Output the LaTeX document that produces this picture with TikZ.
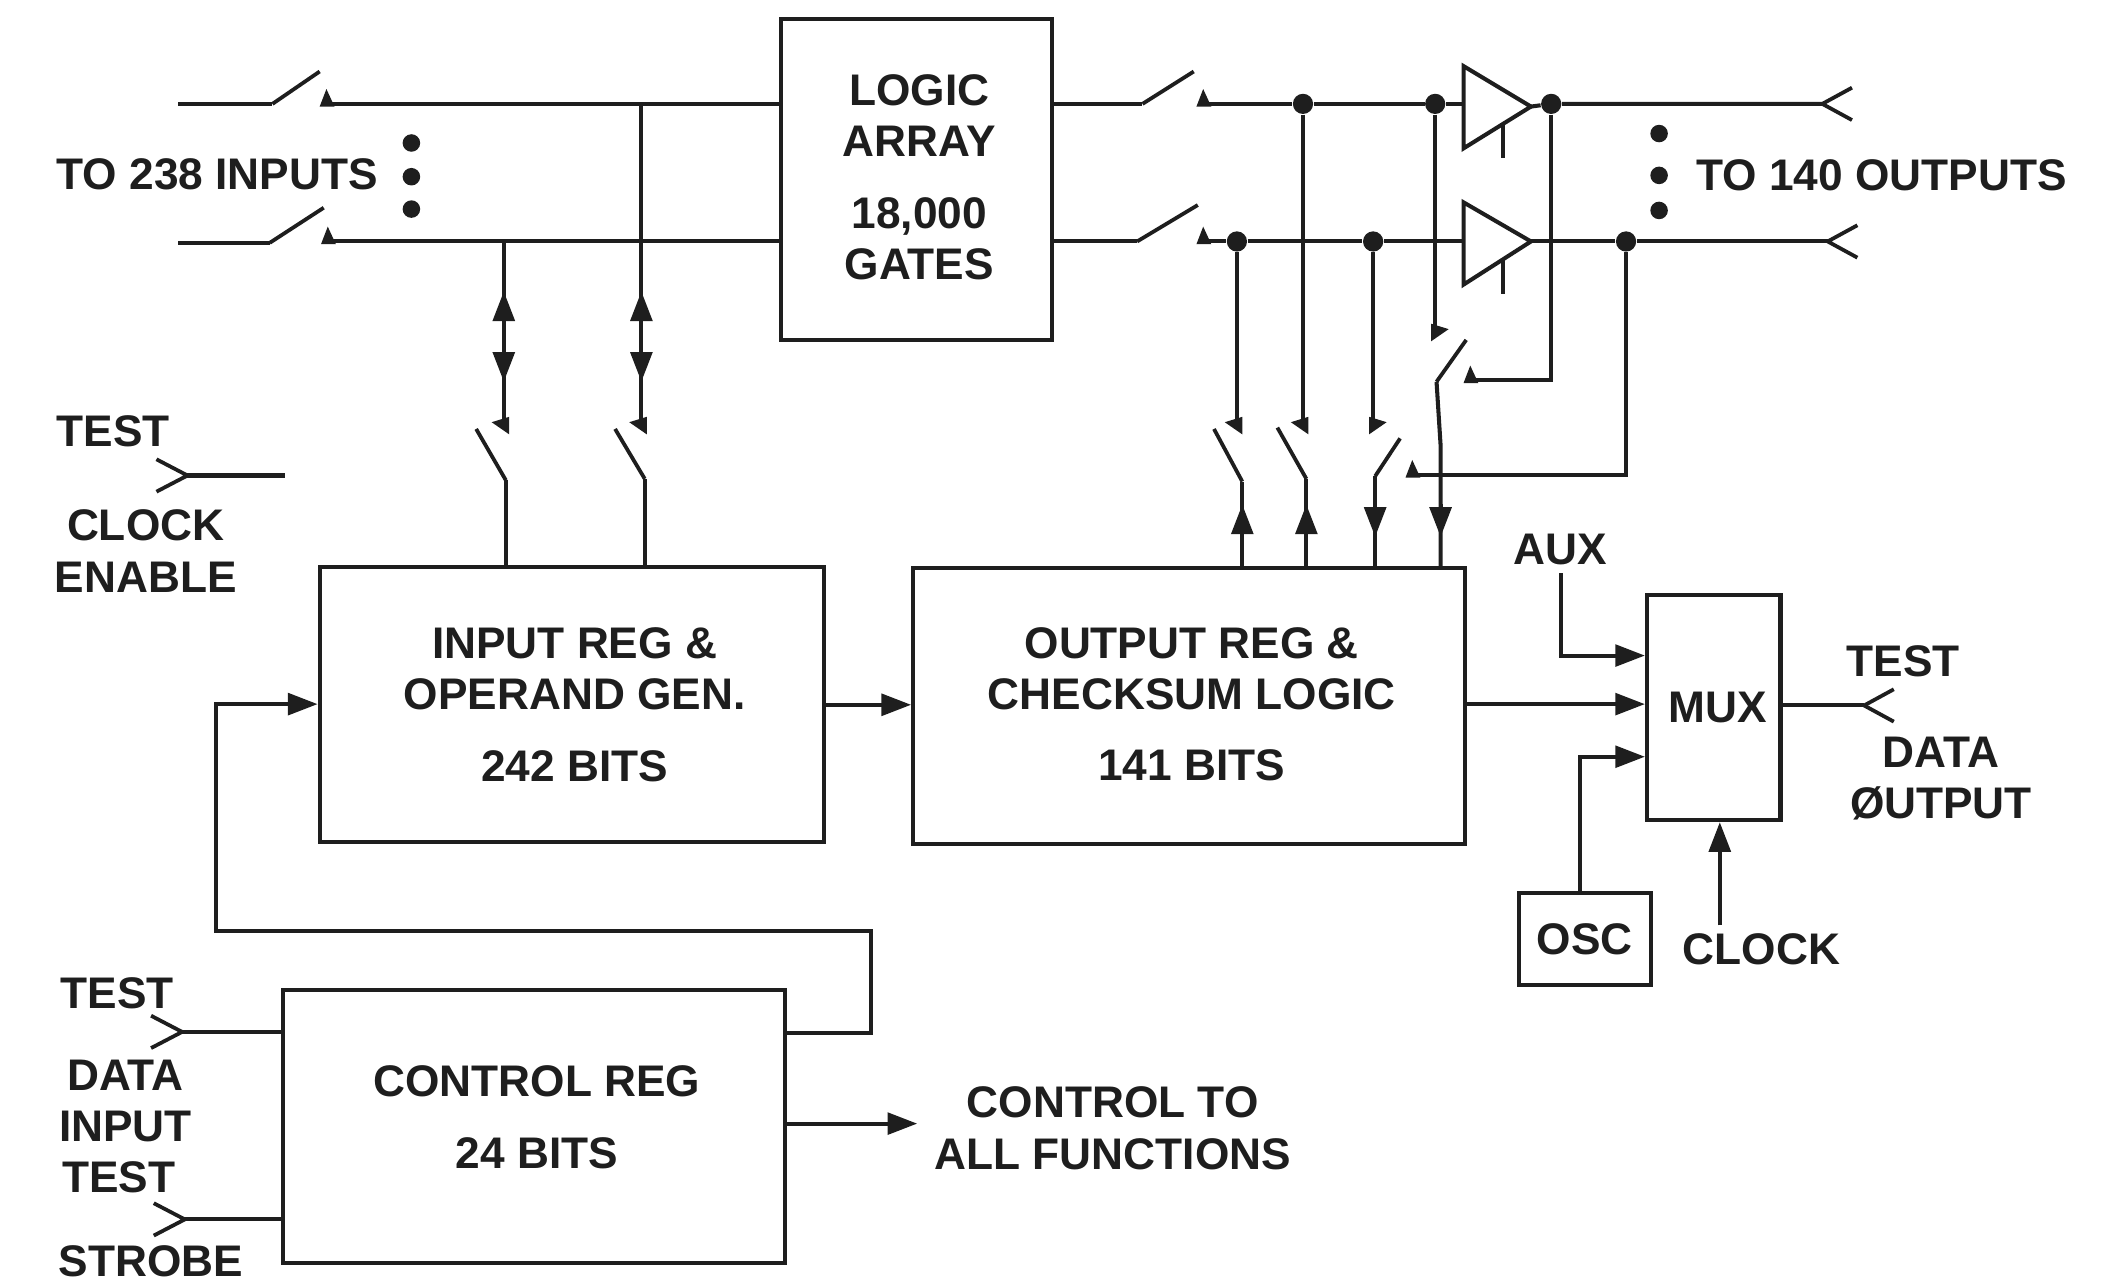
\documentclass[tikz,border=0pt]{standalone}
\usepackage{fontspec}
\setmainfont{Liberation Sans}[BoldFont={Liberation Sans Bold}]
\usetikzlibrary{arrows.meta,calc}
\definecolor{ink}{HTML}{1E1E1E}
\tikzset{
  wire/.style={draw=ink,line width=1.5pt,line join=miter},
  blade/.style={draw=ink,line width=1.4pt},
  flow/.style={draw=ink,line width=1.5pt,-{Triangle[length=11pt,width=8pt]}},
  blockbox/.style={draw=ink,line width=1.5pt,align=center,inner sep=0pt,font=\lbl},
  lab/.style={align=center,inner sep=0pt,text=ink,font=\lbl},
  dot/.style={circle,fill=ink,inner sep=0pt,minimum size=7.5pt},
  bigdot/.style={circle,fill=ink,inner sep=0pt,minimum size=6.5pt}
}
\newcommand{\lbl}{\fontsize{16.4}{19}\selectfont\bfseries\color{ink}}
\newcommand{\sh}{\hspace*{2pt}}
% contact wedges: up (horizontal bus), left-pointing, right-pointing
\newcommand{\wedgeU}[1]{\fill[ink] (#1) ++(-5,2) -- ++(5,-13) -- ++(6,13) -- cycle;}
\newcommand{\wedgeL}[1]{\fill[ink] (#1) ++(4,-7) -- ++(-13,4) -- ++(13,9) -- cycle;}
\newcommand{\wedgeR}[1]{\fill[ink] (#1) ++(-3,-7) -- ++(13,4) -- ++(-13,9) -- cycle;}
% forks: tip at #1, open towards the right / left
\newcommand{\forkR}[1]{\draw[blade] ($(#1)+(22,-12)$) -- (#1) -- ($(#1)+(22,12)$);}
\newcommand{\forkL}[1]{\draw[blade] ($(#1)+(-23,-12)$) -- (#1) -- ($(#1)+(-23,12)$);}
\begin{document}
\begin{tikzpicture}[x=0.5pt,y=-0.5pt]
\useasboundingbox (0,0) rectangle (1568,950);
% ---------- blocks
\node[blockbox,minimum width=100.5pt,minimum height=119pt,text depth=1.8pt] (logic) at (679.5,133) {\sh LOGIC\\\sh ARRAY\\[7.5pt]\sh 18,000\\\sh GATES};
\node[blockbox,minimum width=187pt,minimum height=102pt] (inreg) at (424,522.5) {\sh INPUT REG \&\\\sh OPERAND GEN.\\[7.5pt]\sh 242 BITS};
\node[blockbox,minimum width=204.5pt,minimum height=102.5pt,text depth=1.5pt] (outreg) at (881.5,523.5) {\sh OUTPUT REG \&\\\sh CHECKSUM LOGIC\\[7.5pt]\sh 141 BITS};
\node[blockbox,minimum width=49.5pt,minimum height=83.5pt] (mux) at (1270.5,524.5) {\hspace*{3pt}MUX};
\node[blockbox,minimum width=49pt,minimum height=34pt] (osc) at (1175,696) {OSC};
\node[blockbox,minimum width=186pt,minimum height=101pt,text depth=7pt] (ctrl) at (396,835) {\sh CONTROL REG\\[7.5pt]\sh 24 BITS};
% ---------- labels
\node[lab] (tinputs) at (161,129) {TO 238 INPUTS};
\node[lab] (toutputs) at (1395,130) {TO 140 OUTPUTS};
\node[lab] (tclk1) at (84,320) {TEST};
\node[lab] (tclk2) at (108,408.5) {CLOCK\\ENABLE};
\node[lab] (taux) at (1157,407) {AUX};
\node[lab] (tdo1) at (1411,490) {TEST};
\node[lab] (tdo2) at (1439,577) {DATA\\ØUTPUT};
\node[lab] (tclock) at (1306,704) {CLOCK};
\node[lab] (tdi1) at (87,736) {TEST};
\node[lab] (tdi2) at (93,816) {DATA\\INPUT};
\node[lab] (tst1) at (88,873) {TEST};
\node[lab,text depth=0pt,anchor=base] (tst2) at (112,946) {STROBE};
\node[lab] (tctl) at (825,836.5) {CONTROL TO\\ALL FUNCTIONS};
% ---------- vertical dots
\foreach \n/\x/\y in {a/305/106,b/305/131,c/305/155,d/1230/99,e/1230/130,f/1230/156}
  \node[bigdot] (v\n) at (\x,\y) {};
% ---------- junctions
\node[dot] (j1) at (966,77) {};
\node[dot] (j2) at (1064,77) {};
\node[dot] (j3) at (1150,77) {};
\node[dot] (j4) at (917,179) {};
\node[dot] (j5) at (1018,179) {};
\node[dot] (j6) at (1205.5,179) {};
% ---------- points
\coordinate (ia1) at (132,77);   \coordinate (ia2) at (202,77);  \coordinate (ia3) at (237,53);  \coordinate (ia4) at (242,77);
\coordinate (ib1) at (132,180);  \coordinate (ib2) at (200,180); \coordinate (ib3) at (240,154); \coordinate (ib4) at (243,179);
\coordinate (ja) at (475.5,77);  \coordinate (jb) at (373.5,179);
\coordinate (oa2) at (847,77);   \coordinate (oa3) at (885,53);  \coordinate (oa4) at (892,77);
\coordinate (ob2) at (843,179);  \coordinate (ob3) at (888,152); \coordinate (ob4) at (892,179);
% input switches
\coordinate (c1) at (373.5,316); \coordinate (k1a) at (353,318); \coordinate (k1b) at (375,356);
\coordinate (c2) at (475.5,316); \coordinate (k2a) at (456,318); \coordinate (k2b) at (478,355);
% output switches
\coordinate (c3) at (917,316);   \coordinate (k3a) at (900,318); \coordinate (k3b) at (921,357);
\coordinate (c4) at (966,316);   \coordinate (k4a) at (947,317); \coordinate (k4b) at (968.5,355);
\coordinate (c5) at (1018,316);  \coordinate (k5a) at (1038,325);\coordinate (k5b) at (1019.5,353);
\coordinate (c6) at (1064,247);  \coordinate (k6a) at (1087,252);\coordinate (k6b) at (1065,283);\coordinate (k6c) at (1068,330);
\coordinate (fbA) at (1150,282); \coordinate (fbB) at (1090,282);
\coordinate (fcA) at (1205.5,352); \coordinate (fcB) at (1047,352);
% buffers
\coordinate (b1t) at (1085,49);  \coordinate (b1b) at (1085,110); \coordinate (b1o) at (1135,79);
\coordinate (b2t) at (1085,150); \coordinate (b2b) at (1085,211); \coordinate (b2o) at (1135,179);
\coordinate (e1a) at (1114,92);  \coordinate (e1b) at (1114,117);
\coordinate (e2a) at (1114,193); \coordinate (e2b) at (1114,218);
% output forks
\coordinate (fo1) at (1351,77);  \coordinate (fo2) at (1355,179);
\coordinate (ftclk) at (139,352.5); \coordinate (tclkend) at (211,352.5);
\coordinate (fmux) at (1382,523);
\coordinate (fdi) at (135,765);  \coordinate (fst) at (137,904);
% mux and feedback
\coordinate (auxA) at (1157,425); \coordinate (auxB) at (1157,486);
\coordinate (oscB) at (1171,561);
\coordinate (clkA) at (1275,686);
\coordinate (fb1) at (646,766); \coordinate (fb2) at (646,690); \coordinate (fb3) at (160,690); \coordinate (fb4) at (160,522);
\coordinate (ctlEnd) at (680,833);
% ---------- input side
\draw[wire] (ia1) -- (ia2); \draw[blade] (ia2) -- (ia3);
\draw[wire] (ia4) -- (logic.west |- ia4);
\draw[wire] (ib1) -- (ib2); \draw[blade] (ib2) -- (ib3);
\draw[wire] (ib4) -- (logic.west |- ib4);
\wedgeU{ia4} \wedgeU{ib4}
\draw[wire] (ja) -- (c2);
\draw[wire] (jb) -- (c1);
\wedgeL{c1} \wedgeL{c2}
\draw[blade] (k1a) -- (k1b); \draw[wire] (k1b) -- (k1b |- inreg.north);
\draw[blade] (k2a) -- (k2b); \draw[wire] (k2b) -- (k2b |- inreg.north);
\foreach \x in {373.5,475.5}{
  \draw[flow] (\x,238) -- (\x,216);
  \draw[flow] (\x,259) -- (\x,283);
}
% ---------- output side
\draw[wire] (logic.east |- oa2) -- (oa2); \draw[blade] (oa2) -- (oa3);
\draw[wire] (logic.east |- ob2) -- (ob2); \draw[blade] (ob2) -- (ob3);
\wedgeU{oa4} \wedgeU{ob4}
\draw[wire] (oa4) -- (j1) -- (j2) -- (b1t |- j2);
\draw[wire] (ob4) -- (j4) -- (j5) -- (b2t |- j5);
\draw[wire] (b1t) -- (b1b) -- (b1o) -- cycle;
\draw[wire] (b2t) -- (b2b) -- (b2o) -- cycle;
\draw[wire] (e1a) -- (e1b); \draw[wire] (e2a) -- (e2b);
\draw[wire] (b1o) -- (j3) -- (fo1);
\draw[wire] (b2o) -- (j6) -- (fo2);
\forkR{fo1} \forkR{fo2}
% verticals
\draw[wire] (j1) -- (c4);
\draw[wire] (j2) -- (c6);
\draw[wire] (j3) -- (fbA) -- (fbB);
\draw[wire] (j4) -- (c3);
\draw[wire] (j5) -- (c5);
\draw[wire] (j6) -- (fcA) -- (fcB);
\wedgeU{fbB} \wedgeU{fcB}
\wedgeL{c3} \wedgeL{c4} \wedgeR{c5} \wedgeR{c6}
\draw[blade] (k3a) -- (k3b); \draw[wire] (k3b) -- (k3b |- outreg.north);
\draw[blade] (k4a) -- (k4b); \draw[wire] (k4b) -- (k4b |- outreg.north);
\draw[blade] (k5a) -- (k5b); \draw[wire] (k5b) -- (k5b |- outreg.north);
\draw[blade] (k6a) -- (k6b); \draw[wire] (k6b) -- (k6c) -- (k6c |- outreg.north);
\draw[flow] (921,398) -- (921,374);
\draw[flow] (968.5,398) -- (968.5,374);
\draw[flow] (1019.5,374) -- (1019.5,398);
\draw[flow] (1068,374) -- (1068,398);
% ---------- test clock enable
\draw[wire] (ftclk) -- (tclkend); \forkL{ftclk}
% ---------- register chain
\draw[flow] (inreg.east) -- (inreg.east -| outreg.west);
\draw[flow] (outreg.east |- 1100,522) -- (mux.west |- 1100,522);
\draw[flow] (auxA) -- (auxB) -- (mux.west |- auxB);
\draw[flow] (osc.north -| oscB) -- (oscB) -- (mux.west |- oscB);
\draw[flow] (clkA) -- (clkA |- mux.south);
\draw[wire] (mux.east |- fmux) -- (fmux);
\draw[blade] (fmux) -- ++(22,-12);
\draw[blade] (fmux) -- ++(22,12);
% ---------- control
\draw[flow] (ctrl.east |- fb1) -- (fb1) -- (fb2) -- (fb3) -- (fb4) -- (inreg.west |- fb4);
\draw[flow] (ctrl.east |- ctlEnd) -- (ctlEnd);
\draw[wire] (fdi) -- (ctrl.west |- fdi); \forkL{fdi}
\draw[wire] (fst) -- (ctrl.west |- fst); \forkL{fst}
\end{tikzpicture}
\end{document}
